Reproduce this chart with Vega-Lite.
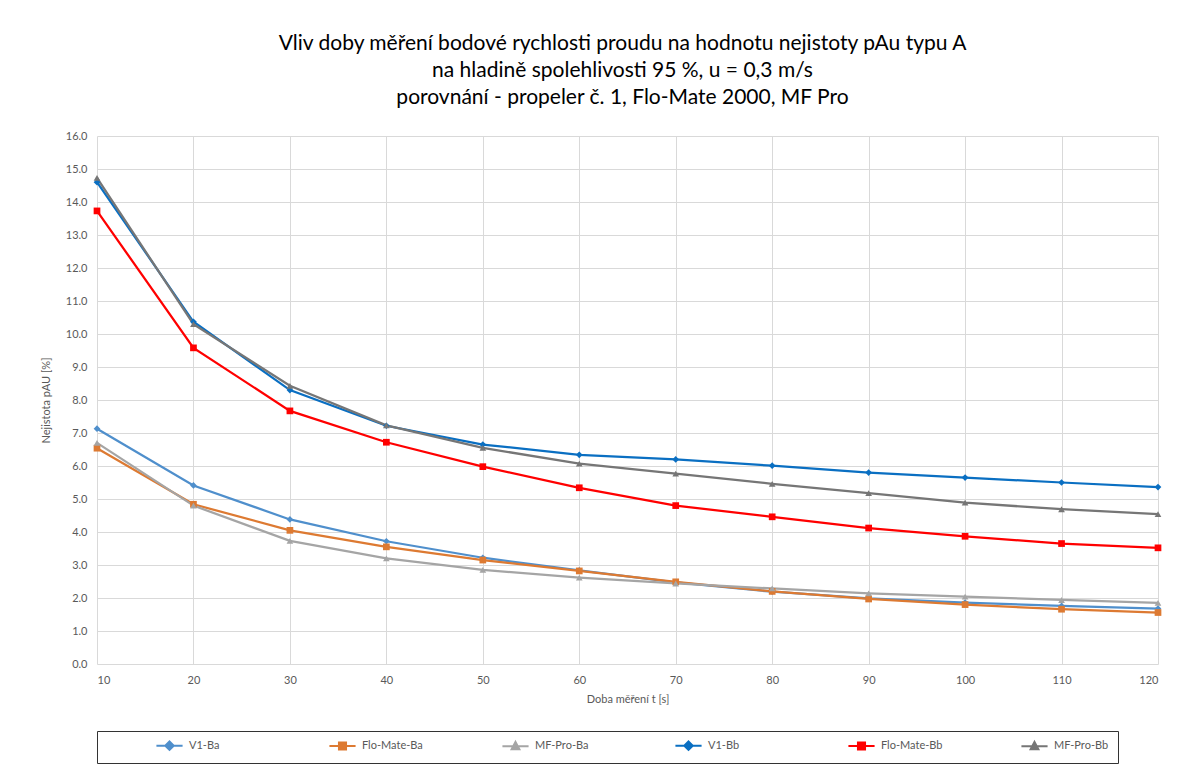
{
  "$schema": "https://vega.github.io/schema/vega-lite/v6.json",
  "width": 1061,
  "height": 528,
  "autosize": "none",
  "padding": {"left": 97, "top": 136, "right": 30, "bottom": 105},
  "background": "#ffffff",
  "config": {
    "font": "Lato",
    "view": {"stroke": null},
    "axis": {"labelFont": "Lato", "titleFont": "Lato", "labelColor": "#595959", "titleColor": "#595959", "labelFontSize": 11, "titleFontSize": 11, "titleFontWeight": "normal", "gridColor": "#D9D9D9", "gridWidth": 1, "domain": false, "ticks": false},
    "legend": {"title": " ", "titleOrient": "right", "titlePadding": 38, "titleFontSize": 11, "orient": "none", "legendX": 0, "legendY": 595, "direction": "horizontal", "columns": 6,
               "strokeColor": "#333333", "padding": 9, "gridAlign": "all", "columnPadding": 28, "symbolOffset": 58, "labelOffset": 14,
               "labelFont": "Lato", "labelFontSize": 11, "labelColor": "#595959", "symbolSize": 50, "symbolStrokeWidth": 2}
  },
  "title": {
    "text": ["Vliv doby měření bodové rychlosti proudu na hodnotu nejistoty pAu typu A", "na hladině spolehlivosti 95 %, u = 0,3 m/s", "porovnání -  propeler č. 1, Flo-Mate 2000, MF Pro"],
    "anchor": "middle",
    "font": "Lato",
    "fontSize": 21,
    "fontWeight": "normal",
    "color": "#000000",
    "lineHeight": 27,
    "offset": 22,
    "dx": -5
  },
  "data": {
    "values": [
      {"t": 10, "series": "V1-Ba", "instrument": "V1", "value": 7.13},
      {"t": 20, "series": "V1-Ba", "instrument": "V1", "value": 5.41},
      {"t": 30, "series": "V1-Ba", "instrument": "V1", "value": 4.38},
      {"t": 40, "series": "V1-Ba", "instrument": "V1", "value": 3.72},
      {"t": 50, "series": "V1-Ba", "instrument": "V1", "value": 3.22},
      {"t": 60, "series": "V1-Ba", "instrument": "V1", "value": 2.84},
      {"t": 70, "series": "V1-Ba", "instrument": "V1", "value": 2.47},
      {"t": 80, "series": "V1-Ba", "instrument": "V1", "value": 2.19},
      {"t": 90, "series": "V1-Ba", "instrument": "V1", "value": 1.99},
      {"t": 100, "series": "V1-Ba", "instrument": "V1", "value": 1.86},
      {"t": 110, "series": "V1-Ba", "instrument": "V1", "value": 1.76},
      {"t": 120, "series": "V1-Ba", "instrument": "V1", "value": 1.68},
      {"t": 10, "series": "Flo-Mate-Ba", "instrument": "Flo-Mate", "value": 6.54},
      {"t": 20, "series": "Flo-Mate-Ba", "instrument": "Flo-Mate", "value": 4.84},
      {"t": 30, "series": "Flo-Mate-Ba", "instrument": "Flo-Mate", "value": 4.05},
      {"t": 40, "series": "Flo-Mate-Ba", "instrument": "Flo-Mate", "value": 3.55},
      {"t": 50, "series": "Flo-Mate-Ba", "instrument": "Flo-Mate", "value": 3.15},
      {"t": 60, "series": "Flo-Mate-Ba", "instrument": "Flo-Mate", "value": 2.82},
      {"t": 70, "series": "Flo-Mate-Ba", "instrument": "Flo-Mate", "value": 2.49},
      {"t": 80, "series": "Flo-Mate-Ba", "instrument": "Flo-Mate", "value": 2.2},
      {"t": 90, "series": "Flo-Mate-Ba", "instrument": "Flo-Mate", "value": 1.97},
      {"t": 100, "series": "Flo-Mate-Ba", "instrument": "Flo-Mate", "value": 1.8},
      {"t": 110, "series": "Flo-Mate-Ba", "instrument": "Flo-Mate", "value": 1.66},
      {"t": 120, "series": "Flo-Mate-Ba", "instrument": "Flo-Mate", "value": 1.56},
      {"t": 10, "series": "MF-Pro-Ba", "instrument": "MF-Pro", "value": 6.7},
      {"t": 20, "series": "MF-Pro-Ba", "instrument": "MF-Pro", "value": 4.8},
      {"t": 30, "series": "MF-Pro-Ba", "instrument": "MF-Pro", "value": 3.73},
      {"t": 40, "series": "MF-Pro-Ba", "instrument": "MF-Pro", "value": 3.2},
      {"t": 50, "series": "MF-Pro-Ba", "instrument": "MF-Pro", "value": 2.85},
      {"t": 60, "series": "MF-Pro-Ba", "instrument": "MF-Pro", "value": 2.62},
      {"t": 70, "series": "MF-Pro-Ba", "instrument": "MF-Pro", "value": 2.44},
      {"t": 80, "series": "MF-Pro-Ba", "instrument": "MF-Pro", "value": 2.29},
      {"t": 90, "series": "MF-Pro-Ba", "instrument": "MF-Pro", "value": 2.14},
      {"t": 100, "series": "MF-Pro-Ba", "instrument": "MF-Pro", "value": 2.04},
      {"t": 110, "series": "MF-Pro-Ba", "instrument": "MF-Pro", "value": 1.94},
      {"t": 120, "series": "MF-Pro-Ba", "instrument": "MF-Pro", "value": 1.85},
      {"t": 10, "series": "V1-Bb", "instrument": "V1", "value": 14.6},
      {"t": 20, "series": "V1-Bb", "instrument": "V1", "value": 10.37},
      {"t": 30, "series": "V1-Bb", "instrument": "V1", "value": 8.3},
      {"t": 40, "series": "V1-Bb", "instrument": "V1", "value": 7.22},
      {"t": 50, "series": "V1-Bb", "instrument": "V1", "value": 6.65},
      {"t": 60, "series": "V1-Bb", "instrument": "V1", "value": 6.34},
      {"t": 70, "series": "V1-Bb", "instrument": "V1", "value": 6.2},
      {"t": 80, "series": "V1-Bb", "instrument": "V1", "value": 6.01},
      {"t": 90, "series": "V1-Bb", "instrument": "V1", "value": 5.8},
      {"t": 100, "series": "V1-Bb", "instrument": "V1", "value": 5.65},
      {"t": 110, "series": "V1-Bb", "instrument": "V1", "value": 5.5},
      {"t": 120, "series": "V1-Bb", "instrument": "V1", "value": 5.36},
      {"t": 10, "series": "Flo-Mate-Bb", "instrument": "Flo-Mate", "value": 13.73},
      {"t": 20, "series": "Flo-Mate-Bb", "instrument": "Flo-Mate", "value": 9.58},
      {"t": 30, "series": "Flo-Mate-Bb", "instrument": "Flo-Mate", "value": 7.67},
      {"t": 40, "series": "Flo-Mate-Bb", "instrument": "Flo-Mate", "value": 6.72},
      {"t": 50, "series": "Flo-Mate-Bb", "instrument": "Flo-Mate", "value": 5.98},
      {"t": 60, "series": "Flo-Mate-Bb", "instrument": "Flo-Mate", "value": 5.34},
      {"t": 70, "series": "Flo-Mate-Bb", "instrument": "Flo-Mate", "value": 4.8},
      {"t": 80, "series": "Flo-Mate-Bb", "instrument": "Flo-Mate", "value": 4.46},
      {"t": 90, "series": "Flo-Mate-Bb", "instrument": "Flo-Mate", "value": 4.12},
      {"t": 100, "series": "Flo-Mate-Bb", "instrument": "Flo-Mate", "value": 3.87},
      {"t": 110, "series": "Flo-Mate-Bb", "instrument": "Flo-Mate", "value": 3.65},
      {"t": 120, "series": "Flo-Mate-Bb", "instrument": "Flo-Mate", "value": 3.52},
      {"t": 10, "series": "MF-Pro-Bb", "instrument": "MF-Pro", "value": 14.73},
      {"t": 20, "series": "MF-Pro-Bb", "instrument": "MF-Pro", "value": 10.3},
      {"t": 30, "series": "MF-Pro-Bb", "instrument": "MF-Pro", "value": 8.43},
      {"t": 40, "series": "MF-Pro-Bb", "instrument": "MF-Pro", "value": 7.23},
      {"t": 50, "series": "MF-Pro-Bb", "instrument": "MF-Pro", "value": 6.55},
      {"t": 60, "series": "MF-Pro-Bb", "instrument": "MF-Pro", "value": 6.07},
      {"t": 70, "series": "MF-Pro-Bb", "instrument": "MF-Pro", "value": 5.77},
      {"t": 80, "series": "MF-Pro-Bb", "instrument": "MF-Pro", "value": 5.46},
      {"t": 90, "series": "MF-Pro-Bb", "instrument": "MF-Pro", "value": 5.18},
      {"t": 100, "series": "MF-Pro-Bb", "instrument": "MF-Pro", "value": 4.89},
      {"t": 110, "series": "MF-Pro-Bb", "instrument": "MF-Pro", "value": 4.69},
      {"t": 120, "series": "MF-Pro-Bb", "instrument": "MF-Pro", "value": 4.54}
    ]
  },
  "encoding": {
    "x": {"field": "t", "type": "quantitative", "scale": {"domain": [10, 120], "nice": false, "zero": false},
      "axis": {"values": [10, 20, 30, 40, 50, 60, 70, 80, 90, 100, 110, 120], "title": "Doba měření t [s]", "labelPadding": 10, "titlePadding": 8}},
    "y": {"field": "value", "type": "quantitative", "scale": {"domain": [0, 16], "nice": false},
      "axis": {"values": [0, 1, 2, 3, 4, 5, 6, 7, 8, 9, 10, 11, 12, 13, 14, 15, 16], "format": ".1f", "title": "Nejistota pAU [%]", "labelPadding": 10, "titlePadding": 14}},
    "color": {"field": "series", "type": "nominal",
      "scale": {"domain": ["V1-Ba", "Flo-Mate-Ba", "MF-Pro-Ba", "V1-Bb", "Flo-Mate-Bb", "MF-Pro-Bb"],
                "range": ["#4F8FCC", "#DD7A32", "#A5A5A5", "#0A6FC2", "#FF0000", "#767676"]},
      "legend": {"encode": {"symbols": {"update": {
        "shape": {"signal": "indexof(datum.value, 'V1') === 0 ? 'M-3.7,0H3.7M0,-1.2L1.2,0L0,1.2L-1.2,0Z' : (indexof(datum.value, 'Flo') === 0 ? 'M-3.7,0H3.7M-1,-1H1V1H-1Z' : 'M-3.7,0H3.7M0,-1.2L1.1,0.9H-1.1Z')"},
        "stroke": {"scale": "color", "field": "value"},
        "fill": {"scale": "color", "field": "value"},
        "strokeWidth": {"value": 2},
        "opacity": {"value": 1}
      }}}}}
  },
  "layer": [
    {"mark": {"type": "line", "strokeWidth": 2.25}},
    {"mark": {"type": "point", "filled": true, "opacity": 1},
     "encoding": {
       "shape": {"field": "instrument", "type": "nominal",
         "scale": {"domain": ["V1", "Flo-Mate", "MF-Pro"],
                   "range": ["diamond", "square", "triangle-up"]},
         "legend": null},
       "size": {"value": 45}
     }}
  ]
}
